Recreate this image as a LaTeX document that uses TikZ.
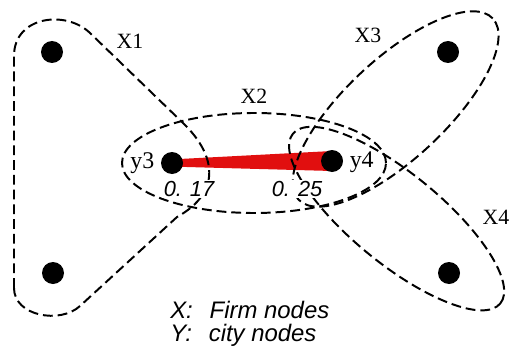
\documentclass[tikz,border=0pt]{standalone}
\usepackage{fontspec}
\setmainfont{Liberation Serif}
\setsansfont{Liberation Sans}
\usepackage{tikz}
\usetikzlibrary{calc,positioning}
\definecolor{linkred}{RGB}{225,15,15}
\pgfdeclarelayer{back}
\pgfsetlayers{back,main}

\begin{document}
\begin{tikzpicture}[ dot/.style={circle, fill=black, inner sep=0pt, minimum
      size=0.55cm}, firm/.style={line width=1.4pt, dash pattern=on 7pt off
      3.5pt}, xlab/.style={font=\fontsize{15.5}{17}\selectfont},
      ylab/.style={font=\fontsize{17}{19}\selectfont, inner sep=1pt},
      share/.style={font=\sffamily\itshape\fontsize{15.5}{17}\selectfont,
      fill=white, inner sep=1pt}, key/.style={font=\sffamily\itshape
      \fontsize{17}{16.5}\selectfont, align=left, inner sep=0pt} ]

    \useasboundingbox (0,0) rectangle (12.8,8.8);

    % City nodes
    \node[dot] (c1) at (1.30,7.50) {}; \node[dot] (c2) at (1.325,1.975) {};
    \node[dot] (y3) at (4.30,4.725) {}; \node[dot] (y4) at (8.30,4.775) {};
    \node[dot] (c5) at (11.20,7.50) {}; \node[dot] (c6) at (11.225,1.975) {};

    \node[ylab, left=0.12cm of y3] (ly3) {y3};
    \node[ylab, right=0.12cm of y4, yshift=-1pt] (ly4) {y4};

    % Firm nodes
    \draw[firm] (0.35,1.6) -- (0.35,7.4) .. controls (0.35,8.4) and
    (1.65,8.557) .. (2.25,7.975) -- (4.575,5.725) .. controls (5.4,4.93) and
    (5.55,4.0) .. (4.425,3.375) -- (2.0,1.15) .. controls (1.5,0.69) and
    (0.35,0.9) .. cycle;
    \draw[firm] (6.35,4.725) ellipse [x radius=3.30, y radius=1.25];
    \draw[firm, rotate around={43:(9.89,6.075)}] (9.89,6.075) ellipse [x
    radius=3.32, y radius=1.25];
    \draw[firm, rotate around={-39.3:(9.915,3.335)}] (9.915,3.335) ellipse [x
    radius=3.35, y radius=1.125];

    \node[xlab] (lx1) at (3.25,7.775) {X1}; \node[xlab] (lx2) at (6.35,6.40)
    {X2}; \node[xlab] (lx3) at (9.20,7.925) {X3}; \node[xlab] (lx4) at
    (12.40,3.375) {X4};

    % Shared link y3 -- y4
    \begin{pgfonlayer}{back}
      \fill[linkred] ($(y3.center)+(0,0.09)$) -- ($(y4.center)+(0,0.25)$) --
      ($(y4.center)+(0,-0.25)$) -- ($(y3.center)+(0,-0.09)$) -- cycle;
    \end{pgfonlayer}
    \node[share] (s3) at (4.725,4.08) {0. 17}; \node[share] (s4) at
    (7.425,4.08) {0. 25};

    % Legend
    \node[key, anchor=west] (legend) at (4.25,0.70) {X:\hspace{12pt}Firm
    nodes\\Y:\hspace{12pt}city nodes};

  \end{tikzpicture}
\end{document}
